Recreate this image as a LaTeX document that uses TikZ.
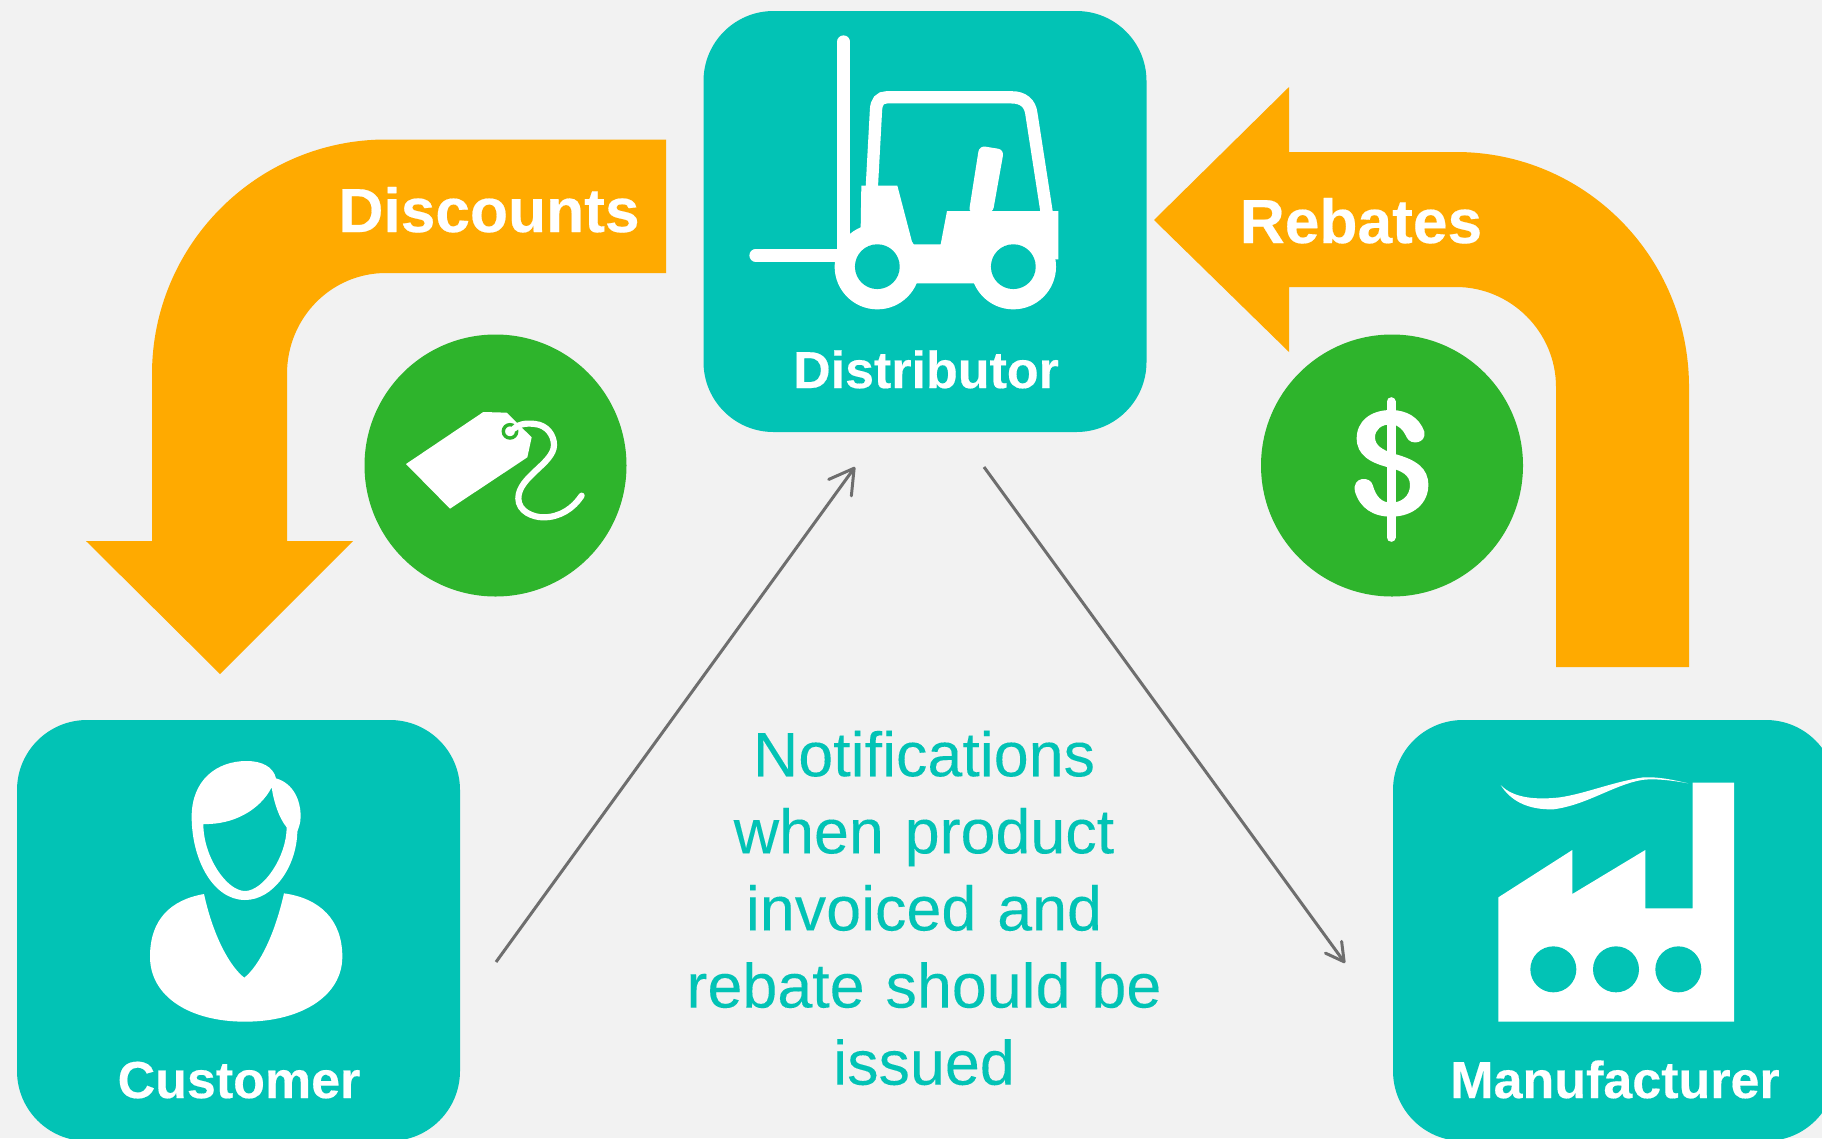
\documentclass[tikz,border=0pt]{standalone}
\usepackage{fontspec}
\setmainfont[BoldFeatures={FakeBold=0.3}]{Liberation Sans}
\newfontfamily\notefamily[WordSpace=1.2,FakeBold=0.1]{Liberation Sans}
\usetikzlibrary{arrows.meta}
\definecolor{bgc}{HTML}{F2F2F2}
\definecolor{teal}{HTML}{02C3B5}
\definecolor{orangec}{HTML}{FFAA00}
\definecolor{greenc}{HTML}{2EB42C}
\definecolor{greyc}{HTML}{6E6E6E}
\tikzset{
  box/.style={fill=teal,draw=none,rounded corners=70pt,minimum width=443pt,minimum height=421pt,inner sep=0pt},
  badge/.style={circle,fill=greenc,draw=none,minimum size=262pt,inner sep=0pt},
  boxlabel/.style={text=white,font=\fontsize{52}{60}\selectfont\bfseries,anchor=base,inner sep=0pt},
  arrowlabel/.style={text=white,font=\fontsize{62.3}{70}\selectfont\bfseries,anchor=base,inner sep=0pt},
  note/.style={text=teal,font=\notefamily\fontsize{62.8}{77.1}\selectfont,align=center,inner sep=0pt},
  bigarrow/.style={fill=orangec,draw=none},
  linkup/.style={draw=greyc,line width=3pt,-{Straight Barb[round,length=24pt,width=28pt,line width=3pt]}},
  linkdown/.style={draw=greyc,line width=3pt,-{Straight Barb[round,length=18pt,width=20pt,line width=3pt]}},
  zoomscale/.style={x=0.33333pt,y=-0.33333pt},
}
\begin{document}
\begin{tikzpicture}[x=1pt,y=-1pt]
\useasboundingbox (0,0) rectangle (1822,1138);
\clip (0,0) rectangle (1822,1138);
\fill[bgc] (0,0) rectangle (1822,1138);

% orange arrows
\path[bigarrow] (666,139.5) -- (386,139.5) .. controls (257,139.5) and (152,245) .. (152,374)
  -- (152,541) -- (86,541) -- (220,674) -- (353,541) -- (287,541) -- (287,374)
  .. controls (287,318) and (331,273) .. (386,273) -- (666,273) -- cycle;
\path[bigarrow] (1154,220) -- (1289,87) -- (1289,152) -- (1456,152)
  .. controls (1585,152) and (1689,257) .. (1689,387) -- (1689,667) -- (1556,667) -- (1556,387)
  .. controls (1556,332) and (1511,287) .. (1456,287) -- (1289,287) -- (1289,352) -- cycle;

% boxes
\node[box] (distributor) at (925,221.5) {};
\node[box] (customer) at (238.5,930.5) {};
\node[box] (manufacturer) at (1614.5,930.5) {};

% badges
\node[badge] (tagbadge) at (495.5,465.5) {};
\node[badge] (dollarbadge) at (1392,465.5) {};

% labels
\node[boxlabel] (ldist) at (926,388) {Distributor};
\node[boxlabel] (lcust) at (239,1098) {Customer};
\node[boxlabel] (lmanu) at (1615,1098) {Manufacturer};
\node[arrowlabel] (ldisc) at (489,232) {Discounts};
\node[arrowlabel] (lreb) at (1361,243) {Rebates};
\node[note] (notes) at (924,908) {Notifications\\when product\\invoiced and\\rebate should be\\issued};

% connectors
\coordinate (c1) at (496,962);
\coordinate (d1) at (855,467);
\coordinate (d2) at (984,467);
\coordinate (m1) at (1345,963);
\draw[linkup] (c1) -- (d1);
\draw[linkdown] (d2) -- (m1);

% forklift
\begin{scope}[shift={(690,0)},zoomscale]
\draw[white,line width=12.6pt,line cap=round] (461,125) -- (461,760);
\draw[white,line width=12.6pt,line cap=round] (197,766) -- (461,766);
\draw[white,line width=12.3pt] (545,570) -- (558,330) .. controls (559,305) and (570,292) .. (590,292)
  -- (965,292) .. controls (1000,292) and (1020,310) .. (1024,340) -- (1072,650);
\fill[white] (514,557) -- (622,557) -- (668,733) -- (752,733) -- (771,633) -- (1105,633) -- (1105,778)
  -- (1090,778) -- (1000,850) -- (678,850) -- (600,800) -- (480,705) -- (512,685) -- cycle;
\fill[white,rounded corners=6pt] (868,437) -- (942,449) -- (908,640) -- (836,640) -- cycle;
\fill[white] (562,800) circle[radius=42.7pt];
\fill[white] (970,800) circle[radius=42.7pt];
\fill[teal] (562,800) circle[radius=22.4pt];
\fill[teal] (970,800) circle[radius=22.4pt];
\end{scope}

% person
\begin{scope}[shift={(0,710)},zoomscale]
\fill[white,even odd rule] (735,570) .. controls (640,570) and (575,450) .. (575,320)
  .. controls (575,210) and (650,153) .. (740,153)
  .. controls (785,153) and (820,170) .. (828,205)
  .. controls (880,220) and (902,270) .. (902,320)
  .. controls (902,340) and (895,355) .. (892,365)
  .. controls (890,470) and (820,570) .. (735,570) -- cycle
  (610,342) .. controls (700,345) and (780,300) .. (815,232)
  .. controls (822,280) and (838,325) .. (860,352)
  .. controls (860,440) and (790,543) .. (735,543)
  .. controls (680,543) and (610,440) .. (610,342) -- cycle;
\fill[white] (612,552) .. controls (640,680) and (690,770) .. (733,803)
  .. controls (780,765) and (825,670) .. (852,550)
  .. controls (960,565) and (1027,630) .. (1027,740)
  .. controls (1027,860) and (900,935) .. (735,935)
  .. controls (570,935) and (450,860) .. (450,740)
  .. controls (450,630) and (510,570) .. (612,552) -- cycle;
\end{scope}

% factory
\begin{scope}[shift={(1380,710)},zoomscale]
\fill[white] (355,562) -- (577,420) -- (577,552) -- (796,420) -- (796,595) -- (938,595) -- (938,218)
  -- (1062,218) -- (1062,935) -- (355,935) -- cycle;
\fill[teal] (520,778) circle[radius=23pt];
\fill[teal] (708,778) circle[radius=23pt];
\fill[teal] (895,778) circle[radius=23pt];
\fill[white] (362,225) .. controls (400,265) and (470,270) .. (540,262)
  .. controls (620,250) and (700,215) .. (790,202)
  .. controls (840,200) and (880,210) .. (925,220)
  .. controls (870,210) and (820,205) .. (785,210)
  .. controls (700,225) and (620,285) .. (520,298)
  .. controls (440,300) and (390,270) .. (362,225) -- cycle;
\end{scope}

% price tag
\begin{scope}[shift={(360,330)},zoomscale]
\fill[white] (138,402) -- (370,246) -- (440,248) -- (515,322) -- (502,382) -- (270,536) -- cycle;
\draw[greenc,line width=3.4pt] (450,304) circle[radius=6.7pt];
\draw[white,line width=6.2pt,line cap=round] (462,296) .. controls (480,278) and (510,280) .. (525,282)
  .. controls (560,285) and (582,315) .. (582,345)
  .. controls (582,400) and (475,440) .. (475,505)
  .. controls (475,545) and (520,562) .. (550,562)
  .. controls (600,562) and (640,535) .. (665,497);
\end{scope}

% dollar
\begin{scope}[shift={(1260,330)},zoomscale]
\draw[white,line width=9pt,line cap=round] (393,215) -- (393,622);
\fill[white] (493,305) .. controls (478,262) and (440,240) .. (393,240)
  .. controls (330,240) and (290,275) .. (290,325)
  .. controls (290,375) and (330,398) .. (385,412)
  .. controls (425,422) and (450,435) .. (450,465)
  .. controls (450,498) and (425,518) .. (393,518)
  .. controls (365,518) and (348,500) .. (338,465)
  .. controls (332,438) and (275,438) .. (285,485)
  .. controls (300,535) and (340,560) .. (393,560)
  .. controls (460,560) and (505,520) .. (505,465)
  .. controls (505,415) and (470,390) .. (405,372)
  .. controls (365,360) and (345,345) .. (345,322)
  .. controls (345,298) and (365,283) .. (393,283)
  .. controls (415,283) and (430,300) .. (440,322)
  .. controls (452,348) and (500,340) .. (493,305) -- cycle;
\end{scope}
\end{tikzpicture}
\end{document}
